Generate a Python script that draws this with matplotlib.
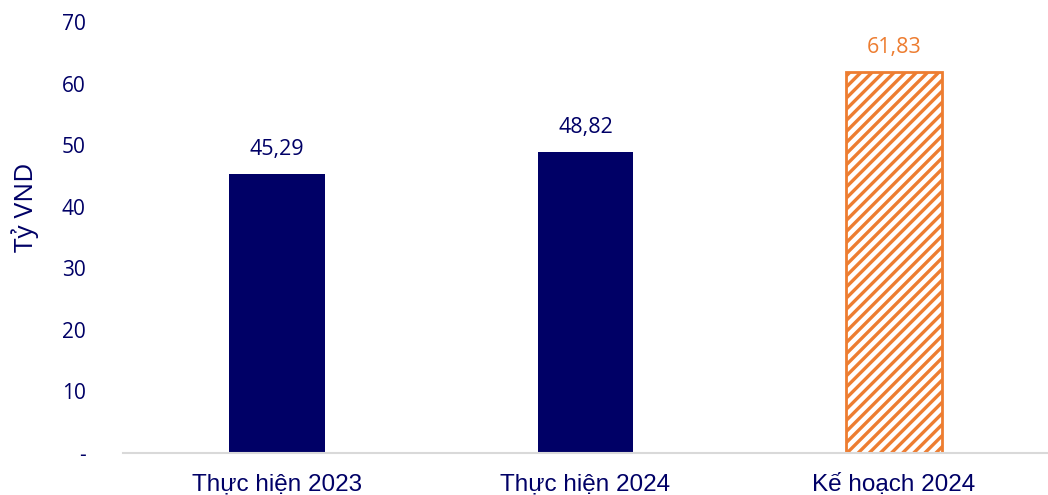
import numpy as np
import matplotlib
matplotlib.use("Agg")
import matplotlib.pyplot as plt

categories = ["Thực hiện 2023", "Thực hiện 2024", "Kế hoạch 2024"]
values = [45.29, 48.82, 61.83]
value_labels = ["45,29", "48,82", "61,83"]
y_ticks = [0, 10, 20, 30, 40, 50, 60, 70]
y_tick_labels = ["-", "10", "20", "30", "40", "50", "60", "70"]

navy = "#000066"
orange = "#ED7D31"

plt.rcParams["hatch.linewidth"] = 2.4
plt.rcParams["hatch.color"] = orange

fig = plt.figure(figsize=(10.48, 4.95), dpi=100)
ax = fig.add_axes([0.1174, 0.0848, 0.8826, 0.8708])

x = np.arange(len(categories))
bars = ax.bar(x[:2], values[:2], width=0.31, color=navy)
plan = ax.bar(x[2], values[2], width=0.31, facecolor="white",
              edgecolor=orange, linewidth=2, hatch="///")

for xi, v, lab in zip(x, values, value_labels):
    c = orange if xi == 2 else navy
    ax.annotate(lab, (xi, v), xytext=(0, 10.5), textcoords="offset points",
                ha="center", va="bottom", fontsize=15.5, color=c,
                family="Open Sans")

ax.set_xlim(-0.5, 2.5)
ax.set_ylim(0, 70)
ax.set_yticks(y_ticks)
ax.set_yticklabels(y_tick_labels, family="Open Sans", fontsize=15, color=navy)
ax.set_xticks(x)
ax.set_xticklabels(categories, family="Liberation Sans", fontsize=17.5, color=navy)
ax.tick_params(axis="both", length=0)
ax.tick_params(axis="y", pad=27)
ax.tick_params(axis="x", pad=15)

ax.set_ylabel("Tỷ VND", family="Open Sans", fontsize=19, color=navy)
ax.yaxis.set_label_coords(-0.091, 0.571)

for s in ["top", "right", "left"]:
    ax.spines[s].set_visible(False)
ax.spines["bottom"].set_color("#D9D9D9")
ax.spines["bottom"].set_linewidth(1.5)

fig.savefig("out.png", dpi=100)
